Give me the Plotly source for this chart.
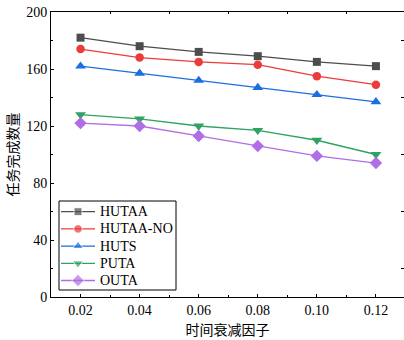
import plotly.graph_objects as go

# Time-decay factor (x) and completed task counts per algorithm
decay = [0.02, 0.04, 0.06, 0.08, 0.10, 0.12]
hutaa = [182, 176, 172, 169, 165, 162]
hutaa_no = [174, 168, 165, 163, 155, 149]
huts = [162, 157, 152, 147, 142, 137]
puta = [128, 125, 120, 117, 110, 100]
outa = [122, 120, 113, 106, 99, 94]

x_ticks = [0.02, 0.04, 0.06, 0.08, 0.10, 0.12]
x_ticktext = ["0.02", "0.04", "0.06", "0.08", "0.10", "0.12"]
y_ticks = [0, 40, 80, 120, 160, 200]
x_minor = [0.03, 0.05, 0.07, 0.09, 0.11]
y_minor = [20, 60, 100, 140, 180]

series = [
    ("HUTAA", hutaa, "#4d4d4d", "square", 8),
    ("HUTAA-NO", hutaa_no, "#ec3b3b", "circle", 8.5),
    ("HUTS", huts, "#1c6fe0", "triangle-up", 9.5),
    ("PUTA", puta, "#2ea363", "triangle-down", 9.5),
    ("OUTA", outa, "#b06ee6", "diamond", 9.5),
]

serif = "Liberation Serif, Times New Roman, serif"
cjk = "Noto Sans CJK SC, sans-serif"

# Figure / plot-area geometry (pixels)
W, H = 404, 340
M_L, M_R, M_T, M_B = 51, 0, 12, 43
PW, PH = W - M_L - M_R, H - M_T - M_B

# Compact legend box, in pixels measured from the plot area's top-left corner
LEG_L, LEG_T, LEG_R, LEG_B = 8, 189, 125, 278
LEG_ROW0, LEG_ROW_STEP = 199.7, 17.2
LEG_LINE = (10, 44)
LEG_TEXT_X = 47

fig = go.Figure()
for name, vals, color, sym, size in series:
    fig.add_trace(go.Scatter(
        x=decay, y=vals, name=name, mode="lines+markers",
        line=dict(color=color, width=1.3),
        marker=dict(symbol=sym, size=size, color=color),
        showlegend=False,
    ))

# Legend keys drawn on a pixel-scaled overlay axis pair
for i, (name, vals, color, sym, size) in enumerate(series):
    row_y = LEG_ROW0 + i * LEG_ROW_STEP
    mid = (LEG_LINE[0] + LEG_LINE[1]) / 2
    fig.add_trace(go.Scatter(
        x=[LEG_LINE[0], mid, LEG_LINE[1]], y=[row_y] * 3,
        xaxis="x3", yaxis="y3", mode="lines+markers",
        line=dict(color=color, width=1.3),
        marker=dict(symbol=sym, size=[0, size, 0], color=color),
        showlegend=False, hoverinfo="skip",
    ))
    fig.add_annotation(
        x=LEG_TEXT_X, y=row_y, xref="x3", yref="y3", text=name,
        showarrow=False, xanchor="left", yanchor="middle",
        font=dict(family=serif, size=14, color="black"),
    )

fig.add_shape(
    type="rect", xref="x3", yref="y3",
    x0=LEG_L, x1=LEG_R, y0=LEG_T, y1=LEG_B,
    line=dict(color="black", width=1), fillcolor="white", layer="below",
)

# Empty trace that carries the top/right tick-only axes
fig.add_trace(go.Scatter(x=[], y=[], xaxis="x2", yaxis="y2",
                         showlegend=False, hoverinfo="skip"))

fig.update_layout(
    width=W, height=H,
    margin=dict(l=M_L, r=M_R, t=M_T, b=M_B),
    paper_bgcolor="white", plot_bgcolor="white",
    font=dict(family=serif, size=14, color="black"),
    showlegend=False,
    xaxis=dict(
        range=[0.01, 0.1295], tickvals=x_ticks, ticktext=x_ticktext,
        showgrid=False, zeroline=False,
        showline=True, linecolor="black", linewidth=1, mirror=True,
        ticks="inside", ticklen=3, tickcolor="black",
        minor=dict(tickvals=x_minor, ticks="inside", ticklen=2, tickcolor="black"),
        title=dict(text="时间衰减因子", font=dict(family=cjk, size=14), standoff=8),
        tickfont=dict(family=serif, size=14),
    ),
    yaxis=dict(
        range=[0, 200], tickvals=y_ticks,
        showgrid=False, zeroline=False,
        showline=True, linecolor="black", linewidth=1, mirror=False,
        ticks="inside", ticklen=3, tickcolor="black",
        minor=dict(tickvals=y_minor, ticks="inside", ticklen=2, tickcolor="black"),
        title=dict(text="任务完成数量", font=dict(family=cjk, size=14), standoff=4),
        tickfont=dict(family=serif, size=14),
    ),
    xaxis2=dict(
        overlaying="x", side="top", range=[0.01, 0.1295],
        tickvals=x_minor, showticklabels=False, ticks="inside", ticklen=2,
        tickcolor="black", showgrid=False, zeroline=False, showline=False,
    ),
    yaxis2=dict(
        overlaying="y", side="right", range=[0, 200],
        tickvals=y_minor, showticklabels=False, ticks="inside", ticklen=3,
        tickcolor="black", showgrid=False, zeroline=False, showline=False,
    ),
    xaxis3=dict(overlaying="x", range=[0, PW], visible=False, fixedrange=True),
    yaxis3=dict(overlaying="y", range=[PH, 0], visible=False, fixedrange=True),
)

fig.write_html("out.html")
